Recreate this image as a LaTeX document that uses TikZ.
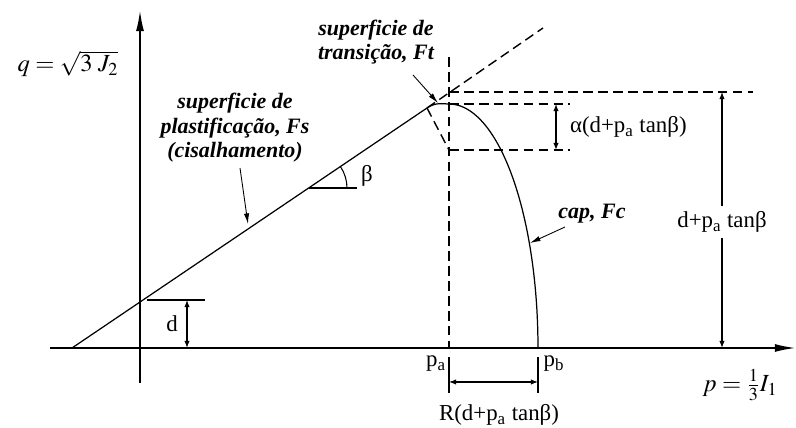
\documentclass[tikz,border=0pt]{standalone}
\usepackage{mathptmx}
\usepackage{fontspec}
\setmainfont{Liberation Serif}
\usetikzlibrary{arrows.meta, calc}

\begin{document}
\begin{tikzpicture}[
    x=0.02cm, y=-0.02cm,
    axis/.style={line width=1.1pt, -{Latex[length=12pt, width=4.5pt]}},
    lbl/.style={font=\fontsize{12.5}{14}\selectfont\bfseries\itshape, align=center, inner sep=1pt},
    txt/.style={font=\fontsize{13}{15}\selectfont, inner sep=1pt},
    dimline/.style={line width=0.6pt, {Latex[length=4pt, width=3pt]}-{Latex[length=4pt, width=3pt]}},
    leader/.style={line width=0.5pt, -{Latex[length=6pt, width=3pt]}},
    hidden/.style={line width=0.8pt, dash pattern=on 5.5pt off 3pt}
  ]
  \useasboundingbox (0,0) rectangle (796,428);

  % Punkte
  \coordinate (O) at (140,348);
  \coordinate (xa) at (50,348);
  \coordinate (xe) at (796,348);
  \coordinate (ya) at (140,383);
  \coordinate (ye) at (140,10);
  \coordinate (S0) at (72,348);
  \coordinate (A) at (427,108);
  \coordinate (T) at (449,104);
  \coordinate (E) at (543,28);
  \coordinate (pa) at (449,348);
  \coordinate (pb) at (538,348);

  % Achsen
  \draw[axis] (xa) -- (xe);
  \draw[axis] (ya) -- (ye);

  % Fs, Ft und Kappe
  \draw[line width=0.7pt] (S0) -- (A);
  \draw[line width=0.7pt] (A) .. controls (436,102) and (442,104) .. (T);
  \draw[line width=0.7pt] plot[domain=90:0, samples=50] ({449+89*cos(\x)}, {348-244*sin(\x)});
  \draw[hidden] (A) -- (E);
  \draw[hidden] (A) -- (449,150);

  % Hilfslinien gestrichelt
  \draw[hidden] (449,57) -- (pa);
  \draw[hidden] (449,92) -- (753,92);
  \draw[hidden] (T) -- (570,104);
  \draw[hidden] (449,150) -- (570,150);

  % Winkel beta
  \draw[line width=0.6pt] (309,188) -- (357,188);
  \draw[line width=0.6pt] (347,188) arc[start angle=0, end angle=34, radius=0.76cm];
  \node[txt] (beta) at (367,176) {β};

  % Abstand d
  \draw[line width=0.6pt] (147,300) -- (205,300);
  \draw[dimline] (187,300) -- (187,348);
  \node[txt] (d) at (172,324) {d};

  % alpha-Bemassung
  \draw[dimline] (556,104) -- (556,150);
  \node[txt, anchor=west] (alpha) at (568,127) {α(d+p\textsubscript{a} tanβ)};

  % Hoehe d+pa tan beta
  \draw[dimline] (722,92) -- (722,348);
  \node[txt, fill=white, inner sep=3pt] (hoehe) at (722,222) {d+p\textsubscript{a} tanβ};

  % R-Bemassung unter der Achse
  \draw[line width=0.6pt] (449,357) -- (449,393);
  \draw[line width=0.6pt] (538,357) -- (538,393);
  \draw[dimline] (449,382) -- (538,382);
  \node[txt] (lpa) at (436,364) {p\textsubscript{a}};
  \node[txt] (lpb) at (554,364) {p\textsubscript{b}};
  \node[txt] (R) at (499,415) {R(d+p\textsubscript{a} tanβ)};

  % Achsenbeschriftung
  \node[font=\fontsize{14}{16}\selectfont] (q) at (68,64) {$q=\sqrt{3\;J_2}$};
  \node[font=\fontsize{14}{16}\selectfont] (p) at (740,385) {$p=\frac{1}{3}I_1$};

  % Flaechen mit Pfeilen
  \node[lbl] (Fs) at (235,128) {superficie de\\plastificação, Fs\\(cisalhamento)};
  \node[lbl] (Ft) at (376,42) {superficie de\\transição, Ft};
  \node[lbl] (Fc) at (592,214) {cap, Fc};
  \coordinate (fsA) at (240,168);
  \coordinate (fsB) at (248,224);
  \coordinate (ftA) at (413,75);
  \coordinate (ftB) at (438,103);
  \coordinate (fcA) at (565,227);
  \coordinate (fcB) at (530,243);
  \draw[leader] (fsA) -- (fsB);
  \draw[leader] (ftA) -- (ftB);
  \draw[leader] (fcA) -- (fcB);
\end{tikzpicture}
\end{document}
